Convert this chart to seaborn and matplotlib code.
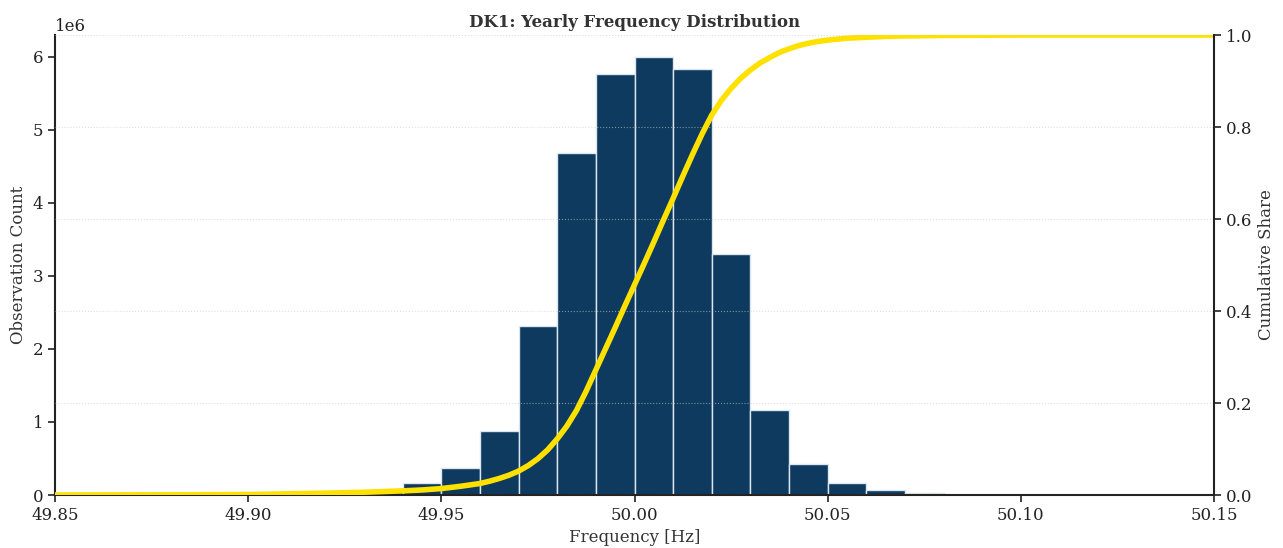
import numpy as np
import pandas as pd
import matplotlib
matplotlib.use("Agg")
import matplotlib.pyplot as plt
import seaborn as sns

# ---- data ----
bin_edges = [49.85, 49.86, 49.87, 49.88, 49.89, 49.90, 49.91, 49.92, 49.93, 49.94,
             49.95, 49.96, 49.97, 49.98, 49.99, 50.00, 50.01, 50.02, 50.03, 50.04,
             50.05, 50.06, 50.07, 50.08, 50.09, 50.10, 50.11, 50.12, 50.13, 50.14, 50.15]
bin_counts = [0, 0, 0, 0, 0, 0, 0, 5000, 60000, 165000,
              370000, 870000, 2310000, 4680000, 5770000, 6000000, 5830000, 3300000, 1160000, 420000,
              160000, 70000, 25000, 3000, 0, 0, 0, 0, 0, 0]

cdf_freq = [49.85, 49.90, 49.92, 49.93, 49.94, 49.945, 49.95, 49.955,
            49.96, 49.9625, 49.965, 49.9675, 49.97, 49.9725, 49.975, 49.9775,
            49.98, 49.9825, 49.985, 49.9875, 49.99, 49.9925, 49.995, 49.9975,
            50.00, 50.0025, 50.005, 50.0075, 50.01, 50.0125, 50.015, 50.0175,
            50.02, 50.0225, 50.025, 50.0275, 50.03, 50.0325, 50.035, 50.0375,
            50.04, 50.0425, 50.045, 50.0475, 50.05, 50.055, 50.06, 50.065,
            50.07, 50.08, 50.10, 50.15]
cdf_share = [0.0, 0.001, 0.004, 0.006, 0.009, 0.011, 0.014, 0.019,
             0.025, 0.030, 0.036, 0.043, 0.052, 0.064, 0.079, 0.098,
             0.122, 0.150, 0.184, 0.226, 0.272, 0.318, 0.364, 0.411,
             0.457, 0.503, 0.550, 0.598, 0.645, 0.693, 0.740, 0.785,
             0.826, 0.858, 0.884, 0.906, 0.924, 0.939, 0.951, 0.962,
             0.970, 0.977, 0.982, 0.986, 0.989, 0.993, 0.995, 0.997,
             0.998, 0.999, 1.0, 1.0]

title = "DK1: Yearly Frequency Distribution"
x_ticks = [49.85, 49.90, 49.95, 50.00, 50.05, 50.10, 50.15]
right_ticks = [0.0, 0.2, 0.4, 0.6, 0.8, 1.0]

# ---- styling ----
sns.set_theme(style="ticks")
plt.rcParams["font.family"] = ["DejaVu Serif"]
plt.rcParams["text.color"] = "#333333"
plt.rcParams["axes.labelcolor"] = "#333333"
plt.rcParams["xtick.color"] = "#222222"
plt.rcParams["ytick.color"] = "#222222"

bar_color = "#0d3a5e"
line_color = "#ffe100"
FS = 12

centers = [(a + b) / 2 for a, b in zip(bin_edges[:-1], bin_edges[1:])]
df = pd.DataFrame({"freq": centers, "count": bin_counts})
cdf_df = pd.DataFrame({"freq": cdf_freq, "share": cdf_share})

fig = plt.figure(figsize=(12.83, 5.48), dpi=100)
ax = fig.add_axes([55 / 1283, 1 - 495 / 548, (1214 - 55) / 1283, (495 - 35) / 548])

sns.histplot(data=df, x="freq", weights="count", bins=bin_edges, ax=ax,
             color=bar_color, alpha=1.0, edgecolor="#dde6ee", linewidth=1.0)
ax.set_xlim(49.85, 50.15)
ax.set_ylim(0, 6.3e6)
ax.set_xticks(x_ticks)
ax.set_xticklabels([f"{t:.2f}" for t in x_ticks])
ax.set_xlabel("Frequency [Hz]", fontsize=FS)
ax.set_ylabel("Observation Count", fontsize=FS)
ax.tick_params(axis="both", labelsize=FS, length=5, width=1.2)
ax.ticklabel_format(axis="y", style="sci", scilimits=(0, 0))
ax.yaxis.get_offset_text().set_fontsize(FS)
ax.grid(False)

ax2 = ax.twinx()
sns.lineplot(data=cdf_df, x="freq", y="share", ax=ax2, color=line_color, linewidth=4.0)
ax2.set_ylim(0, 1.0)
ax2.set_yticks(right_ticks)
ax2.set_yticklabels([f"{t:.1f}" for t in right_ticks])
ax2.set_ylabel("Cumulative Share", fontsize=FS)
ax2.tick_params(axis="y", labelsize=FS, length=5, width=1.2)
ax2.grid(True, axis="y", color="#cccccc", linestyle=":", linewidth=0.8, alpha=0.6)
ax2.set_xlim(49.85, 50.15)

for a in (ax, ax2):
    a.spines["top"].set_visible(False)
    for s in ("left", "bottom", "right"):
        a.spines[s].set_color("#222222")
        a.spines[s].set_linewidth(1.5)
ax.spines["right"].set_visible(False)
ax2.spines["left"].set_visible(False)
ax2.spines["bottom"].set_visible(False)

ax.set_title(title, fontsize=FS, fontweight="bold", pad=6)

fig.savefig("out.png", dpi=100)
